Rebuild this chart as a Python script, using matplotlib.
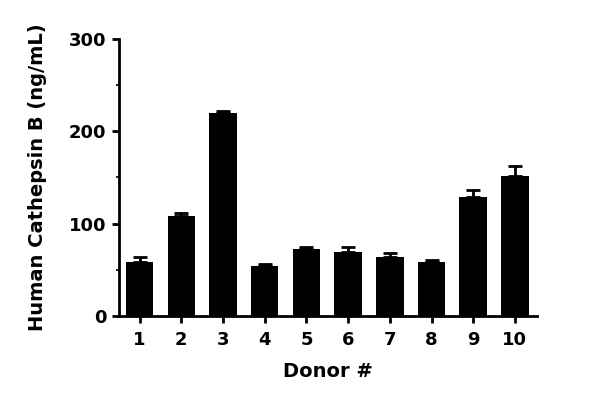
import matplotlib
matplotlib.use("Agg")
import matplotlib.pyplot as plt
from matplotlib.ticker import MultipleLocator

donors = ["1", "2", "3", "4", "5", "6", "7", "8", "9", "10"]
mean_ng_ml = [58.8, 108.0, 219.6, 54.5, 72.6, 69.7, 64.3, 58.2, 129.3, 151.7]
err_ng_ml = [4.8, 3.0, 2.8, 1.5, 2.4, 5.3, 3.7, 1.8, 7.2, 10.1]

plt.rcParams["font.family"] = ["DejaVu Sans"]
plt.rcParams["font.weight"] = "bold"

fig = plt.figure(figsize=(6.0, 4.05), dpi=100)
ax = fig.add_axes([0.198, 0.22, 0.697, 0.684])

x = list(range(1, len(donors) + 1))
ax.bar(x, mean_ng_ml, width=0.66, color="black", zorder=2)
ax.errorbar(x, mean_ng_ml, yerr=[[0] * len(err_ng_ml), err_ng_ml], fmt="none",
            ecolor="black", elinewidth=2, capsize=5, capthick=2, zorder=1)

ax.set_xlim(0.5, 10.53)
ax.set_ylim(0, 300)
ax.set_xticks(x)
ax.set_xticklabels(donors)
ax.yaxis.set_major_locator(MultipleLocator(100))
ax.yaxis.set_minor_locator(MultipleLocator(50))

for side in ("top", "right"):
    ax.spines[side].set_visible(False)
for side in ("left", "bottom"):
    ax.spines[side].set_linewidth(2)

ax.tick_params(axis="both", which="major", length=5, width=2, labelsize=13, pad=4)
ax.tick_params(axis="x", which="major", pad=6)
ax.tick_params(axis="y", which="minor", length=2.5, width=1.2)
for lab in ax.get_xticklabels() + ax.get_yticklabels():
    lab.set_fontweight("bold")

ax.set_xlabel("Donor #", fontsize=14, fontweight="bold", labelpad=9)
ax.set_ylabel("Human Cathepsin B (ng/mL)", fontsize=14, fontweight="bold", labelpad=16)

fig.savefig("out.png", dpi=100)
